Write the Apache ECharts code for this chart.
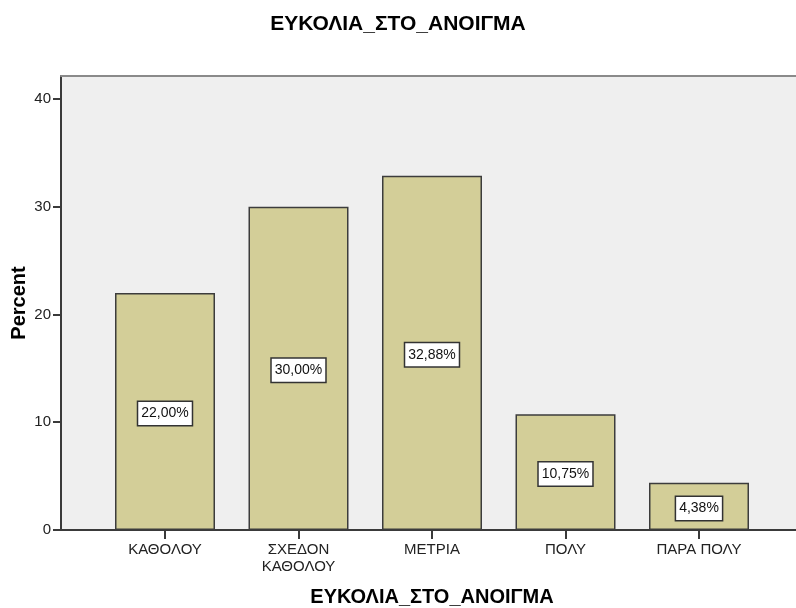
<!DOCTYPE html>
<html><head><meta charset="utf-8">
<script src="https://cdn.jsdelivr.net/npm/echarts@6/dist/echarts.min.js"></script>
<style>html,body{margin:0;padding:0;background:#fff}#c{width:796px;height:608px}</style>
</head><body><div id="c"></div>
<script>
const categories = ['ΚΑΘΟΛΟΥ', 'ΣΧΕΔΟΝ\nΚΑΘΟΛΟΥ', 'ΜΕΤΡΙΑ', 'ΠΟΛΥ', 'ΠΑΡΑ ΠΟΛΥ'];
const percents = [22.00, 30.00, 32.88, 10.75, 4.38];
const yTicks = [0, 10, 20, 30, 40];
const titleText = 'ΕΥΚΟΛΙΑ_ΣΤΟ_ΑΝΟΙΓΜΑ';
const yName = 'Percent';

const FONT = 'Arial, "Liberation Sans", sans-serif';
const YMAX = 42.13;
const chart = echarts.init(document.getElementById('c'));
chart.setOption({
  animation: false,
  backgroundColor: '#ffffff',
  title: {text: titleText, left: 'center', top: 9,
    textStyle: {fontFamily: FONT, fontSize: 21, fontWeight: 'bold', color: '#000'}},
  grid: [
    {left: 61, right: 0, top: 76, bottom: 78, show: true, backgroundColor: '#efefef', borderWidth: 0,
      containLabel: false, outerBoundsMode: 'none'},
    {left: 98.25, width: 667.5, top: 76, bottom: 78, containLabel: false, outerBoundsMode: 'none'}
  ],
  xAxis: [
    {type: 'value', gridIndex: 0, position: 'bottom', min: 0, max: 1,
      axisLine: {show: true, lineStyle: {color: '#3a3a3a', width: 2}},
      axisTick: {show: false}, axisLabel: {show: false}, splitLine: {show: false}},
    {type: 'value', gridIndex: 0, position: 'top', min: 0, max: 1,
      axisLine: {show: true, lineStyle: {color: '#8a8a8a', width: 2}},
      axisTick: {show: false}, axisLabel: {show: false}, splitLine: {show: false}},
    {type: 'category', gridIndex: 1, data: categories, boundaryGap: true,
      name: titleText, nameLocation: 'middle', nameGap: 57,
      nameTextStyle: {fontFamily: FONT, fontSize: 20, fontWeight: 'bold', color: '#000'},
      axisLine: {show: false},
      axisTick: {show: true, alignWithLabel: true, length: 9, lineStyle: {color: '#3a3a3a', width: 2}},
      axisLabel: {fontFamily: FONT, fontSize: 15, color: '#222', margin: 11, lineHeight: 17}}
  ],
  yAxis: [
    {type: 'value', gridIndex: 0, min: 0, max: YMAX,
      name: yName, nameLocation: 'middle', nameGap: 32, nameRotate: 90, nameMoveOverlap: false,
      nameTextStyle: {fontFamily: FONT, fontSize: 20, fontWeight: 'bold', color: '#000'},
      axisLine: {show: true, lineStyle: {color: '#3a3a3a', width: 2}},
      axisTick: {show: true, length: 8, customValues: yTicks, lineStyle: {color: '#3a3a3a', width: 2}},
      axisLabel: {customValues: yTicks, fontFamily: FONT, fontSize: 15, color: '#222', margin: 10},
      splitLine: {show: false}},
    {type: 'value', gridIndex: 1, min: 0, max: YMAX, show: false}
  ],
  series: [{
    type: 'bar', xAxisIndex: 2, yAxisIndex: 1, data: percents, barWidth: 100,
    itemStyle: {color: '#d3ce98', borderColor: '#3c3c3c', borderWidth: 1.5},
    label: {show: true, position: 'inside', offset: [0, 2], formatter: p => p.value.toFixed(2).replace('.', ',') + '%',
      fontFamily: FONT, fontSize: 14, color: '#111', backgroundColor: '#fff',
      borderColor: '#333', borderWidth: 1.5, padding: [5, 3, 4, 3]}
  }]
});
</script></body></html>
